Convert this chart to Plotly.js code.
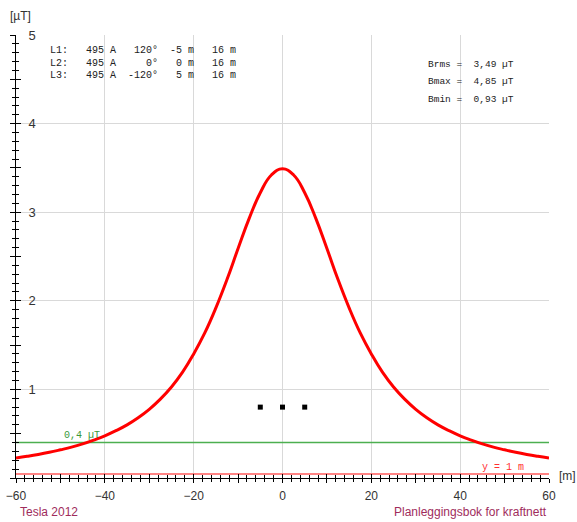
<!DOCTYPE html>
<html>
<head>
<meta charset="utf-8">
<script src="https://cdn.plot.ly/plotly-3.0.1.min.js"></script>
<style>html,body{margin:0;padding:0;background:#fff;}#chart{width:577px;height:522px;}</style>
</head>
<body>
<div id="chart"></div>
<script>
// Lateral distance from line centre [m]
const xPos = [-60,-57.5,-55,-52.5,-50,-47.5,-45,-42.5,-40,-37.5,-35,-32.5,-30,-27.5,-25,-22.5,-20,-17.5,-15,-12.5,-10,-7.5,-5,-2.5,0,
              2.5,5,7.5,10,12.5,15,17.5,20,22.5,25,27.5,30,32.5,35,37.5,40,42.5,45,47.5,50,52.5,55,57.5,60];
// Magnetic field at 1 m height [µT]
const bField = [0.226,0.245,0.266,0.29,0.318,0.348,0.385,0.428,0.476,0.534,0.60,0.68,0.775,0.89,1.027,1.194,1.40,1.637,1.92,2.24,2.59,2.93,3.22,3.42,3.49,
                3.42,3.22,2.93,2.59,2.24,1.92,1.637,1.40,1.194,1.027,0.89,0.775,0.68,0.60,0.534,0.476,0.428,0.385,0.348,0.318,0.29,0.266,0.245,0.226];
// Conductor positions (shown as markers)
const condX = [-5, 0, 5];
const condY = [0.8, 0.8, 0.8];
// Reference lines
const xExtent = [-60, 60];
const limitValue = 0.4;        // 0,4 µT
const heightLineValue = 0.045; // y = 1 m marker line
// Tick labels
const xTicks = [-60,-40,-20,0,20,40,60];
const yTicks = [1,2,3,4,5];
// Text rows
const lineRows = [
  "L1:   495 A   120°  -5 m   16 m",
  "L2:   495 A     0°   0 m   16 m",
  "L3:   495 A  -120°   5 m   16 m"
];
const resultRows = [
  "Brms =  3,49 µT",
  "Bmax =  4,85 µT",
  "Bmin =  0,93 µT"
];

const nb = s => s.replace(/ /g, "\u00a0");
const mono = "Liberation Mono, Courier New, monospace";
const sans = "Liberation Sans, Arial, sans-serif";

const traces = [
  {x: xExtent, y: [heightLineValue, heightLineValue], mode: 'lines', line: {color: '#ff5a5a', width: 1.5}, hoverinfo: 'skip'},
  {x: xExtent, y: [limitValue, limitValue], mode: 'lines', line: {color: '#4caf50', width: 1.5}, hoverinfo: 'skip'},
  {x: xPos, y: bField, mode: 'lines', line: {color: '#ff0000', width: 3, shape: 'spline', smoothing: 1.3}},
  {x: condX, y: condY, mode: 'markers', marker: {symbol: 'square', size: 5, color: '#000'}},
  {x: [], y: [], xaxis: 'x2', yaxis: 'y2', hoverinfo: 'skip'},
  {x: [], y: [], xaxis: 'x3', yaxis: 'y3', hoverinfo: 'skip'}
];

const tickAxBase = {
  showgrid: false, zeroline: false, showline: false, showticklabels: false,
  tickcolor: '#000', tickwidth: 1
};

const annotations = [];
lineRows.forEach((r, i) => annotations.push({
  x: -52.9, y: [4.83, 4.68, 4.54][i], xref: 'x', yref: 'y', xanchor: 'left', yanchor: 'middle',
  text: nb(r), showarrow: false, font: {family: mono, size: 10, color: '#222'}
}));
resultRows.forEach((r, i) => annotations.push({
  x: 32.4, y: [4.67, 4.47, 4.27][i], xref: 'x', yref: 'y', xanchor: 'left', yanchor: 'middle',
  text: nb(r), showarrow: false, font: {family: mono, size: 9.5, color: '#222'}
}));
annotations.push(
  {x: -49.7, y: 0.485, xref: 'x', yref: 'y', xanchor: 'left', yanchor: 'middle', text: nb('0,4 µT'),
   showarrow: false, font: {family: mono, size: 10, color: '#3a9a3a'}},
  {x: 44.5, y: 0.113, xref: 'x', yref: 'y', xanchor: 'left', yanchor: 'middle', text: nb('y = 1 m'),
   showarrow: false, font: {family: mono, size: 10, color: '#ff3030'}},
  {x: -0.015, y: 1.043, xref: 'paper', yref: 'paper', xanchor: 'left', yanchor: 'middle', text: '[µT]',
   showarrow: false, font: {family: sans, size: 12, color: '#333'}},
  {x: 1.015, y: 0.004, xref: 'paper', yref: 'paper', xanchor: 'left', yanchor: 'middle', text: '[m]',
   showarrow: false, font: {family: sans, size: 12, color: '#333'}},
  {x: 0.004, y: -0.077, xref: 'paper', yref: 'paper', xanchor: 'left', yanchor: 'middle', text: 'Tesla 2012',
   showarrow: false, font: {family: sans, size: 12, color: '#a02c5c'}},
  {x: 1.0, y: -0.077, xref: 'paper', yref: 'paper', xanchor: 'right', yanchor: 'middle', text: 'Planleggingsbok for kraftnett',
   showarrow: false, font: {family: sans, size: 12, color: '#a02c5c'}}
);

const layout = {
  width: 577, height: 522,
  margin: {l: 16, r: 28, t: 35, b: 44, pad: 0},
  paper_bgcolor: '#fff', plot_bgcolor: '#fff',
  showlegend: false,
  xaxis: {
    range: xExtent, tickmode: 'array', tickvals: xTicks, ticks: '',
    showgrid: true, gridcolor: '#d9d9d9', gridwidth: 1, zeroline: false,
    showline: true, linecolor: '#000', linewidth: 1,
    tickfont: {family: sans, size: 12, color: '#333'}, ticklabelstandoff: 7
  },
  yaxis: {
    range: [0, 5], tickmode: 'array', tickvals: yTicks, ticks: '',
    showgrid: true, gridcolor: '#d9d9d9', gridwidth: 1, zeroline: false,
    showline: true, linecolor: '#000', linewidth: 1,
    ticklabelposition: 'inside', ticklabeloverflow: 'allow', ticklabelstandoff: 12,
    tickfont: {family: sans, size: 13, color: '#333'}
  },
  xaxis2: Object.assign({}, tickAxBase, {overlaying: 'x', anchor: 'y', range: xExtent, tickmode: 'linear', tick0: -60, dtick: 10,
    ticks: 'outside', ticklen: 4, minor: {ticks: 'outside', dtick: 2, ticklen: 3, tickcolor: '#000'}}),
  xaxis3: Object.assign({}, tickAxBase, {overlaying: 'x', anchor: 'y', range: xExtent, tickmode: 'linear', tick0: -60, dtick: 10,
    ticks: 'inside', ticklen: 4, minor: {ticks: 'inside', dtick: 2, ticklen: 3, tickcolor: '#000'}}),
  yaxis2: Object.assign({}, tickAxBase, {overlaying: 'y', anchor: 'x', range: [0, 5], tickmode: 'linear', tick0: 0, dtick: 0.5,
    ticks: 'outside', ticklen: 5, minor: {ticks: 'outside', dtick: 0.1, ticklen: 3, tickcolor: '#000'}}),
  yaxis3: Object.assign({}, tickAxBase, {overlaying: 'y', anchor: 'x', range: [0, 5], tickmode: 'linear', tick0: 0, dtick: 0.5,
    ticks: 'inside', ticklen: 5, minor: {ticks: 'inside', dtick: 0.1, ticklen: 3, tickcolor: '#000'}}),
  annotations: annotations
};

Plotly.newPlot('chart', traces, layout, {staticPlot: true, displayModeBar: false});
</script>
</body>
</html>
